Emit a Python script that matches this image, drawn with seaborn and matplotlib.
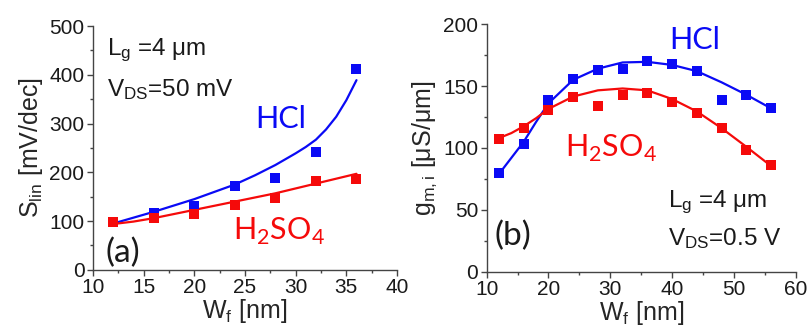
import numpy as np
import pandas as pd
import matplotlib
matplotlib.use("Agg")
import matplotlib.pyplot as plt
import seaborn as sns
from matplotlib.ticker import MultipleLocator

# ---- data: measured points ----
wf_a = [12, 16, 20, 24, 28, 32, 36]
slin_hcl = [98, 116, 131, 172, 188, 242, 412]
slin_h2so4 = [98, 106, 114, 134, 148, 182, 187]

wf_b = [12, 16, 20, 24, 28, 32, 36, 40, 44, 48, 52, 56]
gm_hcl = [80, 103, 139, 156, 163, 164, 170, 168, 162, 139, 143, 132]
gm_h2so4 = [107, 116, 131, 141, 134, 143, 144, 137, 128, 116, 98, 86]

# ---- data: fitted curves ----
fit_a_hcl_x = [12, 16, 20, 24, 26, 28, 30, 31, 32, 33, 34, 35, 36]
fit_a_hcl_y = [95, 119, 145, 175, 194, 215, 239, 252, 267, 288, 314, 348, 389]
fit_a_h2so4_x = [12, 14, 16, 20, 24, 28, 32, 36]
fit_a_h2so4_y = [94, 99, 106, 123, 140, 157, 177, 197]

fit_b_x = [12, 14, 16, 18, 20, 24, 28, 32, 36, 40, 44, 48, 52, 56]
fit_b_hcl_y = [79, 92, 105, 121, 136, 155, 164, 169, 169.5, 167, 162, 153, 143, 132]
fit_b_h2so4_y = [108, 112, 117.5, 124, 131.5, 141.5, 146.5, 148, 146.5, 139.5, 129.5, 116, 101, 85.5]

BLUE = "#0A0AF5"
RED = "#F50A0A"

sns.set_theme(style="ticks")
plt.rcParams["font.family"] = ["Liberation Sans", "DejaVu Sans"]
plt.rcParams["mathtext.fontset"] = "custom"
plt.rcParams["mathtext.rm"] = "Liberation Sans"
plt.rcParams["mathtext.it"] = "Liberation Sans"

fig = plt.figure(figsize=(8.07, 3.34), dpi=100)
axa = fig.add_axes([0.115, 0.192, 0.377, 0.730])
axb = fig.add_axes([0.603, 0.186, 0.383, 0.742])

lw = 1.6
mk = dict(marker="s", s=60, linewidth=0, zorder=3)
# panel a
sns.lineplot(x=fit_a_hcl_x, y=fit_a_hcl_y, color=BLUE, lw=lw, ax=axa)
sns.lineplot(x=fit_a_h2so4_x, y=fit_a_h2so4_y, color=RED, lw=lw, ax=axa)
sns.scatterplot(x=wf_a, y=slin_hcl, color=BLUE, ax=axa, **mk)
sns.scatterplot(x=wf_a, y=slin_h2so4, color=RED, ax=axa, **mk)
# panel b
sns.lineplot(x=fit_b_x, y=fit_b_hcl_y, color=BLUE, lw=lw, ax=axb)
sns.lineplot(x=fit_b_x, y=fit_b_h2so4_y, color=RED, lw=lw, ax=axb)
sns.scatterplot(x=wf_b, y=gm_hcl, color=BLUE, ax=axb, **mk)
sns.scatterplot(x=wf_b, y=gm_h2so4, color=RED, ax=axb, **mk)

tick_fs = 15
lab_fs = 18
for ax in (axa, axb):
    sns.despine(ax=ax)
    for sp in ("left", "bottom"):
        ax.spines[sp].set_color("#444444")
        ax.spines[sp].set_linewidth(1.0)
    ax.tick_params(which="major", direction="out", length=4, width=1,
                   color="#444444", labelsize=tick_fs, pad=2, labelcolor="#1a1a1a")
    ax.tick_params(which="minor", direction="out", length=2.5, width=1, color="#444444")

axa.set_xlim(10, 40)
axa.set_ylim(0, 500)
axa.xaxis.set_major_locator(MultipleLocator(5))
axa.xaxis.set_minor_locator(MultipleLocator(2.5))
axa.yaxis.set_major_locator(MultipleLocator(100))
axa.yaxis.set_minor_locator(MultipleLocator(50))
axa.set_xlabel(r"W$_\mathregular{f}$ [nm]", fontsize=lab_fs, labelpad=0)
axa.set_ylabel(r"S$_\mathregular{lin}$ [mV/dec]", fontsize=lab_fs, labelpad=3)

axb.set_xlim(10, 60)
axb.set_ylim(0, 200)
axb.xaxis.set_major_locator(MultipleLocator(10))
axb.xaxis.set_minor_locator(MultipleLocator(5))
axb.yaxis.set_major_locator(MultipleLocator(50))
axb.yaxis.set_minor_locator(MultipleLocator(25))
axb.set_xlabel(r"W$_\mathregular{f}$ [nm]", fontsize=lab_fs, labelpad=0)
axb.set_ylabel(r"g$_\mathregular{m,i}$ [μS/μm]", fontsize=lab_fs, labelpad=3)

ann_fs = 17.5
big_fs = 22
cal = ["Lato", "DejaVu Sans"]
txt = "#1a1a1a"
# panel a annotations
axa.text(11.4, 451, r"L$_\mathregular{g}$ =4 μm", fontsize=ann_fs, va="center", color=txt)
axa.text(11.4, 369, r"V$_\mathregular{DS}$=50 mV", fontsize=ann_fs, va="center", color=txt)
axa.text(26.0, 310, "HCl", fontsize=big_fs, family=cal, color=BLUE, va="center")
axa.text(23.8, 78, r"H$_\mathregular{2}$SO$_\mathregular{4}$", fontsize=big_fs, family=cal, color=RED, va="center")
axa.text(11.3, 35, "(a)", fontsize=24, family=cal, color=txt, va="center")
# panel b annotations
axb.text(39.6, 187, "HCl", fontsize=big_fs, family=cal, color=BLUE, va="center")
axb.text(22.6, 100, r"H$_\mathregular{2}$SO$_\mathregular{4}$", fontsize=big_fs, family=cal, color=RED, va="center")
axb.text(39.3, 56, r"L$_\mathregular{g}$ =4 μm", fontsize=ann_fs, va="center", color=txt)
axb.text(39.3, 26.5, r"V$_\mathregular{DS}$=0.5 V", fontsize=ann_fs, va="center", color=txt)
axb.text(11.3, 29, "(b)", fontsize=24, family=cal, color=txt, va="center")

fig.savefig("out.png", dpi=100)
